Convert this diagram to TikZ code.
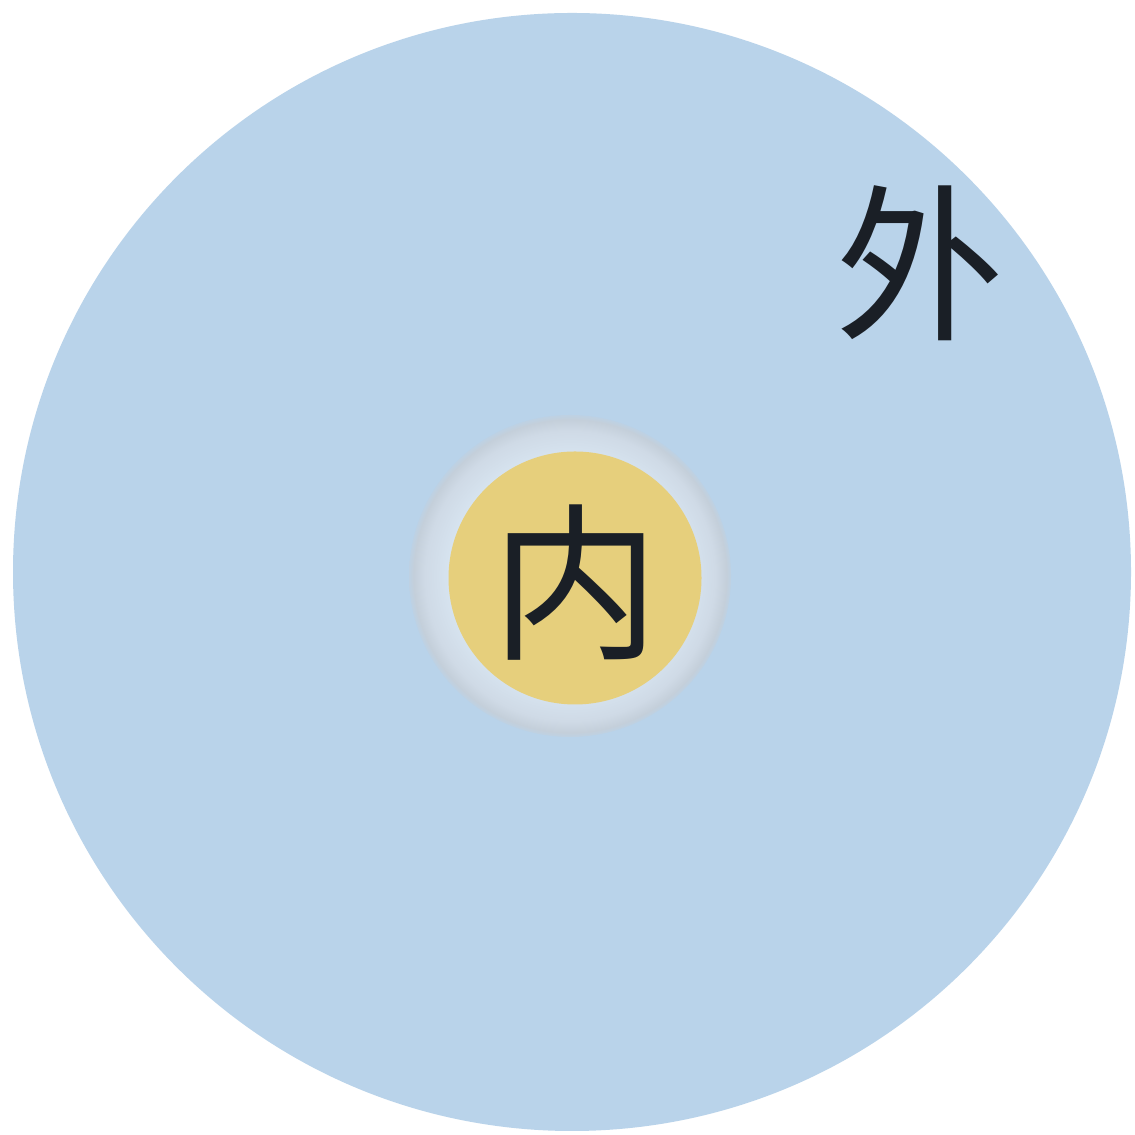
\documentclass[tikz,border=0pt]{standalone}
\usepackage{fontspec}
\newfontfamily\cjk{Noto Sans CJK SC}
\definecolor{outerblue}{HTML}{B9D3EA}
\definecolor{coreyellow}{HTML}{E6CF7C}
\definecolor{ringlight}{HTML}{D6E3EF}
\definecolor{ringmid}{HTML}{CFDAE6}
\definecolor{ringdark}{HTML}{C4CFDA}
\definecolor{inkdark}{HTML}{1A1F26}
\pgfdeclareradialshading{ringglow}{\pgfpoint{0bp}{0bp}}{color(0bp)=(ringlight); color(19bp)=(ringlight); color(22.5bp)=(ringmid); color(24.3bp)=(ringdark); color(25bp)=(outerblue!60!ringdark); color(50bp)=(outerblue)}
\begin{document}
\begin{tikzpicture}[every node/.style={circle, inner sep=0pt},
  glyph/.style={text=inkdark, font=\cjk\fontsize{48}{48}\selectfont}]
\useasboundingbox[fill=white] (0,0) rectangle (11.35,11.35);
\node[fill=outerblue, minimum size=11.18cm] (outer) at (5.72,5.63) {};
\node[shading=ringglow, minimum size=3.22cm] (ring) at (5.70,5.59) {};
\node[fill=coreyellow, minimum size=2.53cm] (core) at (5.75,5.57) {};
\node[glyph] (inner label) at (5.76,5.52) {内};
\node[glyph] (outer label) at (9.20,8.72) {外};
\end{tikzpicture}
\end{document}
